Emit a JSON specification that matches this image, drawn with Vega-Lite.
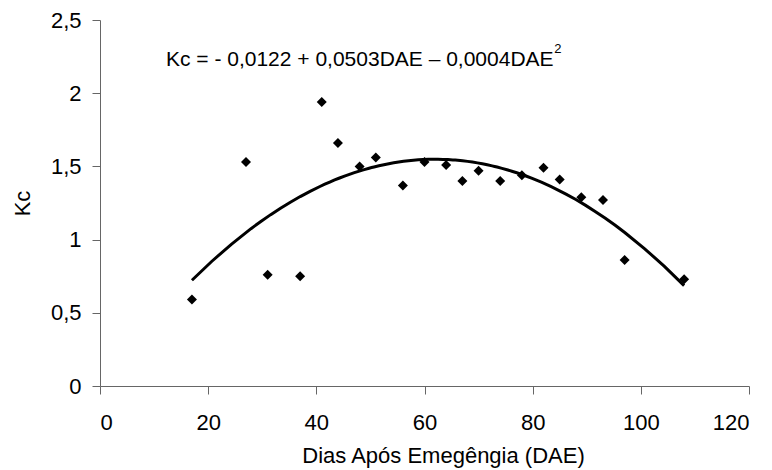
{
  "$schema": "https://vega.github.io/schema/vega-lite/v6.json",
  "autosize": {"type": "none"},
  "width": 649,
  "height": 366,
  "padding": {"left": 100, "top": 20, "right": 23, "bottom": 84},
  "background": "white",
  "config": {
    "view": {"stroke": null},
    "font": "Liberation Sans",
    "axis": {
      "grid": false,
      "domainColor": "#666666",
      "tickColor": "#666666",
      "tickSize": 8,
      "domainWidth": 1,
      "tickWidth": 1,
      "labelFont": "Liberation Sans",
      "labelFontSize": 22,
      "labelColor": "#000000",
      "titleFont": "Liberation Sans",
      "titleFontSize": 22,
      "titleFontWeight": "normal",
      "titleColor": "#000000"
    }
  },
  "data": {
    "values": [
      {"DAE": 17, "Kc": 0.59},
      {"DAE": 27, "Kc": 1.53},
      {"DAE": 31, "Kc": 0.76},
      {"DAE": 37, "Kc": 0.75},
      {"DAE": 41, "Kc": 1.94},
      {"DAE": 44, "Kc": 1.66},
      {"DAE": 48, "Kc": 1.50},
      {"DAE": 51, "Kc": 1.56},
      {"DAE": 56, "Kc": 1.37},
      {"DAE": 60, "Kc": 1.53},
      {"DAE": 64, "Kc": 1.51},
      {"DAE": 67, "Kc": 1.40},
      {"DAE": 70, "Kc": 1.47},
      {"DAE": 74, "Kc": 1.40},
      {"DAE": 78, "Kc": 1.44},
      {"DAE": 82, "Kc": 1.49},
      {"DAE": 85, "Kc": 1.41},
      {"DAE": 89, "Kc": 1.29},
      {"DAE": 93, "Kc": 1.27},
      {"DAE": 97, "Kc": 0.86},
      {"DAE": 108, "Kc": 0.73}
    ]
  },
  "layer": [
    {
      "transform": [
        {"regression": "Kc", "on": "DAE", "method": "poly", "order": 2, "extent": [17, 108]}
      ],
      "mark": {"type": "line", "color": "#000000", "strokeWidth": 3},
      "encoding": {
        "x": {
          "field": "DAE", "type": "quantitative",
          "scale": {"domain": [0, 120], "nice": false},
          "axis": {
            "values": [0, 20, 40, 60, 80, 100, 120],
            "title": "Dias Após Emegêngia (DAE)",
            "labelPadding": 18,
            "titleX": 343,
            "titleY": 69,
            "titleBaseline": "middle",
            "titleAlign": "center",
            "titleAnchor": null
          }
        },
        "y": {
          "field": "Kc", "type": "quantitative",
          "scale": {"domain": [0, 2.5], "nice": false},
          "axis": {
            "values": [0, 0.5, 1, 1.5, 2, 2.5],
            "labelExpr": "replace(format(datum.value, '~g'), '.', ',')",
            "title": "Kc",
            "labelPadding": 11,
            "titleX": -78,
            "titleY": 183,
            "titleBaseline": "middle",
            "titleAlign": "center",
            "titleAngle": -90
          }
        }
      }
    },
    {
      "mark": {"type": "point", "shape": "diamond", "filled": true, "color": "#000000", "size": 100, "opacity": 1},
      "encoding": {
        "x": {"field": "DAE", "type": "quantitative"},
        "y": {"field": "Kc", "type": "quantitative"}
      }
    },
    {
      "data": {"values": [{"eq": "Kc = - 0,0122 + 0,0503DAE – 0,0004DAE"}]},
      "mark": {"type": "text", "align": "left", "baseline": "middle", "fontSize": 21, "font": "Liberation Sans", "color": "#000000"},
      "encoding": {
        "x": {"datum": 12.2, "type": "quantitative"},
        "y": {"datum": 2.226, "type": "quantitative"},
        "text": {"field": "eq"}
      }
    },
    {
      "data": {"values": [{"sup": "2"}]},
      "mark": {"type": "text", "align": "left", "baseline": "middle", "fontSize": 13, "font": "Liberation Sans", "color": "#000000"},
      "encoding": {
        "x": {"datum": 84.0, "type": "quantitative"},
        "y": {"datum": 2.30, "type": "quantitative"},
        "text": {"field": "sup"}
      }
    }
  ]
}
